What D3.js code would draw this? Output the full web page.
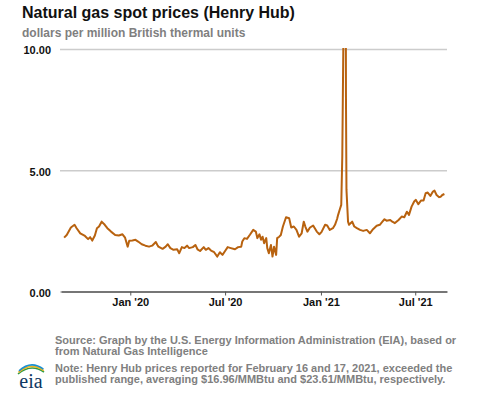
<!DOCTYPE html>
<html>
<head>
<meta charset="utf-8">
<script src="https://cdn.jsdelivr.net/npm/d3@7"></script>
<style>
    body { margin: 0; background: #fff; }
    svg { display: block; font-family: "Liberation Sans", Arial, sans-serif; }
</style>
</head>
<body>
<div id="wrapper"></div>
<script>
// data
const dates = [
    "2019-08-27","2019-09-01","2019-09-09","2019-09-16","2019-09-20","2019-09-27","2019-10-06","2019-10-12",
    "2019-10-16","2019-10-20","2019-10-25","2019-10-29","2019-11-02","2019-11-07","2019-11-13","2019-11-18",
    "2019-11-25","2019-12-03","2019-12-10","2019-12-17","2019-12-22","2019-12-27","2019-12-30","2020-01-05",
    "2020-01-11","2020-01-16","2020-01-23","2020-01-30","2020-02-06","2020-02-12","2020-02-19","2020-02-22",
    "2020-02-24","2020-03-03","2020-03-09","2020-03-13","2020-03-18","2020-03-24","2020-03-31","2020-04-04",
    "2020-04-09","2020-04-14","2020-04-19","2020-04-23","2020-04-30","2020-05-05","2020-05-09","2020-05-14",
    "2020-05-21","2020-05-25","2020-05-30","2020-06-04","2020-06-10","2020-06-16","2020-06-21","2020-06-26",
    "2020-07-01","2020-07-06","2020-07-12","2020-07-20","2020-07-26","2020-08-01","2020-08-03","2020-08-07",
    "2020-08-12","2020-08-18","2020-08-24","2020-08-29","2020-09-01","2020-09-05","2020-09-08","2020-09-11",
    "2020-09-14","2020-09-18","2020-09-20","2020-09-23","2020-09-27","2020-09-30","2020-10-03","2020-10-07",
    "2020-10-09","2020-10-13","2020-10-16","2020-10-20","2020-10-26","2020-11-01","2020-11-05","2020-11-10",
    "2020-11-15","2020-11-20","2020-11-25","2020-11-29","2020-12-02","2020-12-06","2020-12-11","2020-12-17",
    "2020-12-24","2020-12-29","2021-01-02","2021-01-09","2021-01-13","2021-01-18","2021-01-24","2021-01-28",
    "2021-02-01","2021-02-03","2021-02-06","2021-02-09","2021-02-11","2021-02-12","2021-02-16","2021-02-17",
    "2021-02-18","2021-02-19","2021-02-22","2021-02-24","2021-03-02","2021-03-06","2021-03-11","2021-03-17",
    "2021-03-23","2021-03-30","2021-04-05","2021-04-11","2021-04-18","2021-04-24","2021-04-29","2021-05-03",
    "2021-05-07","2021-05-14","2021-05-18","2021-05-23","2021-05-30","2021-06-05","2021-06-10","2021-06-15",
    "2021-06-19","2021-06-24","2021-06-29","2021-07-02","2021-07-07","2021-07-12","2021-07-17","2021-07-21",
    "2021-07-25","2021-07-30","2021-08-04","2021-08-07","2021-08-11","2021-08-16","2021-08-19","2021-08-22",
    "2021-08-26"
]
const prices = [
    2.22, 2.33, 2.64, 2.75, 2.61, 2.40, 2.29, 2.16,
    2.24, 2.10, 2.31, 2.61, 2.68, 2.88, 2.75, 2.61,
    2.47, 2.33, 2.31, 2.36, 2.22, 1.85, 2.09, 2.10,
    2.13, 2.06, 1.95, 1.89, 1.85, 1.89, 2.04, 1.92,
    1.85, 1.76, 1.85, 1.95, 1.79, 1.72, 1.74, 1.58,
    1.83, 1.79, 1.89, 1.79, 1.83, 1.92, 1.74, 1.67,
    1.83, 1.72, 1.79, 1.69, 1.62, 1.44, 1.62, 1.51,
    1.67, 1.83, 1.79, 1.74, 1.83, 1.85, 2.06, 2.20,
    2.17, 2.35, 2.54, 2.47, 2.20, 2.36, 2.13, 2.26,
    1.99, 2.20, 1.79, 1.58, 1.92, 1.44, 1.85, 1.51,
    2.20, 2.26, 2.33, 2.68, 3.06, 3.02, 2.64, 2.68,
    2.54, 2.26, 2.40, 2.88, 2.68, 2.47, 2.64, 2.72,
    2.47, 2.36, 2.45, 2.75, 2.72, 2.54, 2.61, 2.75,
    2.99, 3.16, 3.37, 3.57, 5.60, 7.90, 16.96, 23.61,
    8.20, 4.20, 2.88, 2.75, 2.88, 2.68, 2.61, 2.54,
    2.50, 2.54, 2.40, 2.57, 2.71, 2.75, 2.88, 2.98,
    2.92, 2.95, 2.88, 2.82, 2.95, 3.09, 3.06, 3.29,
    3.16, 3.50, 3.71, 3.78, 3.60, 3.75, 3.75, 4.05,
    4.08, 3.94, 4.12, 4.16, 3.98, 3.89, 3.91, 3.98,
    4.02
]
const yTicks = [0, 5, 10]
const xTickDates = ["2020-01-01", "2020-07-01", "2021-01-01", "2021-07-01"]
const xTickLabels = ["Jan '20", "Jul '20", "Jan '21", "Jul '21"]
const xDomain = ["2019-08-21", "2021-08-31"]

const title = "Natural gas spot prices (Henry Hub)"
const subtitle = "dollars per million British thermal units"
const notes = [
    "Source: Graph by the U.S. Energy Information Administration (EIA), based or",
    "from Natural Gas Intelligence",
    "Note: Henry Hub prices reported for February 16 and 17, 2021, exceeded the",
    "published range, averaging $16.96/MMBtu and $23.61/MMBtu, respectively."
]

function drawLineChart() {
    const parseDate = d3.timeParse("%Y-%m-%d")
    const dataset = dates.map((d, i) => ({ date: parseDate(d), price: prices[i] }))

    const xAccessor = d => d.date
    const yAccessor = d => d.price

    // chart dimensions
    let dimensions = {
        width: 477,
        height: 393,
        margin: { top: 49, right: 30, bottom: 101.5, left: 61 }
    }
    dimensions.boundedWidth = dimensions.width - dimensions.margin.left - dimensions.margin.right
    dimensions.boundedHeight = dimensions.height - dimensions.margin.top - dimensions.margin.bottom

    const wrapper = d3.select("#wrapper")
        .append("svg")
        .attr("width", dimensions.width)
        .attr("height", dimensions.height)

    // titles
    wrapper.append("text")
        .attr("x", 22)
        .attr("y", 18)
        .attr("font-size", 16)
        .attr("font-weight", "bold")
        .attr("fill", "#111")
        .text(title)

    wrapper.append("text")
        .attr("x", 22)
        .attr("y", 36.5)
        .attr("font-size", 12)
        .attr("font-weight", "bold")
        .attr("fill", "#7f7f7f")
        .text(subtitle)

    const bounds = wrapper.append("g")
        .attr("transform", `translate(${dimensions.margin.left},${dimensions.margin.top})`)

    // scales
    const xScale = d3.scaleTime()
        .domain(xDomain.map(parseDate))
        .range([0, dimensions.boundedWidth])

    const yScale = d3.scaleLinear()
        .domain([0, 10])
        .range([dimensions.boundedHeight, 0])

    // gridlines + y labels
    const yAxisGenerator = d3.axisLeft(yScale)
        .tickValues(yTicks)
        .tickSize(-dimensions.boundedWidth)
        .tickPadding(10)
        .tickFormat(d3.format(".2f"))

    const yAxis = bounds.append("g")
        .call(yAxisGenerator)
    yAxis.select(".domain").remove()
    yAxis.selectAll(".tick line")
        .attr("stroke", "#cccccc")
        .attr("stroke-width", 1.5)
        .attr("x1", -1)
    yAxis.selectAll(".tick text")
        .attr("font-size", 11)
        .attr("font-weight", "bold")
        .attr("fill", "#111")
        .attr("font-family", "Liberation Sans, Arial, sans-serif")
        .attr("dy", "0.45em")

    // x axis
    const xAxisGenerator = d3.axisBottom(xScale)
        .tickValues(xTickDates.map(parseDate))
        .tickFormat((d, i) => xTickLabels[i])
        .tickSizeInner(4)
        .tickSizeOuter(0)
        .tickPadding(3)

    const xAxis = bounds.append("g")
        .attr("transform", `translate(0,${dimensions.boundedHeight})`)
        .call(xAxisGenerator)
    xAxis.select(".domain")
        .attr("stroke", "#555")
        .attr("stroke-width", 1.5)
    xAxis.selectAll(".tick line")
        .attr("stroke", "#555")
        .attr("stroke-width", 1)
    xAxis.selectAll(".tick text")
        .attr("font-size", 11)
        .attr("font-weight", "bold")
        .attr("fill", "#111")
        .attr("font-family", "Liberation Sans, Arial, sans-serif")

    // clip so the February 2021 spike is cut at the top of the range
    bounds.append("clipPath")
        .attr("id", "plot-clip")
        .append("rect")
        .attr("x", 0)
        .attr("y", -1)
        .attr("width", dimensions.boundedWidth)
        .attr("height", dimensions.boundedHeight + 1)

    const lineGenerator = d3.line()
        .x(d => xScale(xAccessor(d)))
        .y(d => yScale(yAccessor(d)))

    bounds.append("path")
        .attr("clip-path", "url(#plot-clip)")
        .attr("d", lineGenerator(dataset))
        .attr("fill", "none")
        .attr("stroke", "#b8620f")
        .attr("stroke-width", 2)
        .attr("stroke-linejoin", "round")

    // footnote
    const footnote = wrapper.append("text")
        .attr("font-size", 11)
        .attr("font-weight", "bold")
        .attr("fill", "#808080")
    footnote.selectAll("tspan")
        .data(notes)
        .enter().append("tspan")
        .attr("x", 55)
        .attr("y", (d, i) => 344 + i * 11.2 + (i >= 2 ? 5.5 : 0))
        .text(d => d)

    // eia logo
    const logo = wrapper.append("g")
        .attr("transform", "translate(31,378)")
    const arcColors = ["#2e9a47", "#f2b51c", "#1b8fd0"]
    arcColors.forEach((c, i) => {
        logo.append("path")
            .attr("d", `M${-13 + i * 0.5},${-4 - i * 1.6} Q0,${-15 - i * 1.6} ${13 - i * 0.3},${-6 - i * 1.4}`)
            .attr("fill", "none")
            .attr("stroke", c)
            .attr("stroke-width", 1.6)
    })
    logo.append("text")
        .attr("x", 0)
        .attr("y", 10)
        .attr("text-anchor", "middle")
        .attr("font-family", "Liberation Serif, DejaVu Serif, serif")
        .attr("font-size", 20)
        .attr("fill", "#0e3763")
        .text("eia")
}

drawLineChart()
</script>
</body>
</html>
